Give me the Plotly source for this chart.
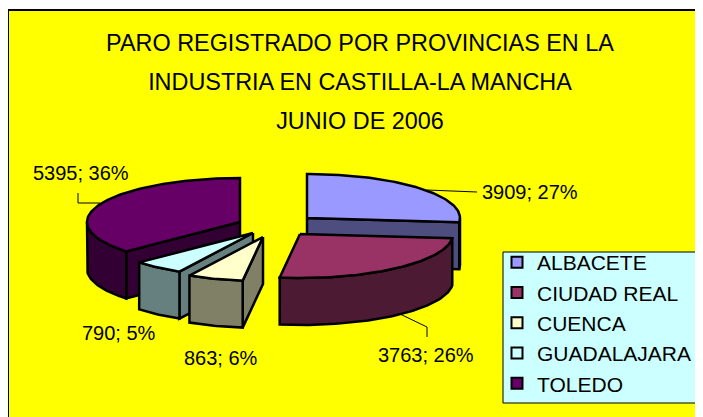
import math
import plotly.graph_objects as go

provinces = ["ALBACETE", "CIUDAD REAL", "CUENCA", "GUADALAJARA", "TOLEDO"]
values = [3909, 3763, 863, 790, 5395]
percents = [27, 26, 6, 5, 36]

top_colors = ["#9999FF", "#993366", "#FFFFCC", "#CCFFFF", "#660066"]
wall_colors = ["#4D4D80", "#4D1A33", "#808066", "#668080", "#330033"]
apex = [(307, 218), (300, 234), (263, 237), (253, 233), (240, 222)]
label_pos = [(530, 192), (426, 355), (221, 358), (119, 333), (81, 173)]
leaders = [([427, 448, 477], [190, 191, 192]), ([400, 427, 427], [314, 327, 337]),
           None, None, ([78, 78, 100], [193, 203, 203])]
RX, RY, DEPTH = 153, 44, 47
draw_order = [4, 3, 2, 0, 1]

OFF = 8  # the page's own margin around the figure
total = sum(values)
bounds = [0]
for v in values:
    bounds.append(bounds[-1] + v / total * 360)


def pt(c, a, dz=0):
    r = math.radians(a)
    return c[0] + RX * math.sin(r), c[1] - RY * math.cos(r) + dz


def arc(c, a0, a1, dz=0):
    n = max(2, int(abs(a1 - a0)))
    return [pt(c, a0 + (a1 - a0) * i / n, dz) for i in range(n + 1)]


def poly(points, color):
    xs = [p[0] for p in points] + [points[0][0]]
    ys = [p[1] for p in points] + [points[0][1]]
    return go.Scatter(x=xs, y=ys, mode="lines", fill="toself", fillcolor=color,
                      line=dict(color="black", width=2.5), showlegend=False, hoverinfo="skip")


fig = go.Figure()
for i in draw_order:
    c, a0, a1 = apex[i], bounds[i], bounds[i + 1]
    # radial faces that look towards the viewer
    for a, visible in ((a0, math.sin(math.radians(a0)) < -1e-6), (a1, math.sin(math.radians(a1)) > 1e-6)):
        if visible:
            p = pt(c, a)
            fig.add_trace(poly([c, p, (p[0], p[1] + DEPTH), (c[0], c[1] + DEPTH)], wall_colors[i]))
    # outer wall: only the part facing the viewer
    v0, v1 = max(a0, 90), min(a1, 270)
    if v1 > v0:
        fig.add_trace(poly(arc(c, v0, v1) + arc(c, v1, v0, DEPTH), wall_colors[i]))
    fig.add_trace(poly([c] + arc(c, a0, a1), top_colors[i]))

for leader in leaders:
    if leader:
        fig.add_trace(go.Scatter(x=leader[0], y=leader[1], mode="lines", line=dict(color="black", width=1),
                                 showlegend=False, hoverinfo="skip"))

for i, name in enumerate(provinces):
    fig.add_trace(go.Scatter(x=[None], y=[None], mode="markers", name=name,
                             marker=dict(symbol="square", size=11, color=top_colors[i],
                                         line=dict(color="black", width=2))))

for i in range(5):
    fig.add_annotation(x=label_pos[i][0], y=label_pos[i][1], text=f"{values[i]}; {percents[i]}%",
                       showarrow=False, font=dict(size=20, color="black"))

fig.add_shape(type="rect", x0=503, x1=702.5, y0=252, y1=403, fillcolor="#CCFFFF",
              line=dict(color="black", width=1), layer="above")

W, H = 703 - OFF, 417 - OFF
S = '<span style="font-size:23.4px">'
fig.update_layout(
    width=W, height=H, autosize=False,
    margin=dict(l=1, r=0, t=3, b=0),
    paper_bgcolor="white", plot_bgcolor="#FFFF00",
    font=dict(family="Liberation Sans, Arial, sans-serif", color="black"),
    title=dict(text=f"{S}PARO REGISTRADO POR PROVINCIAS EN LA</span><br>{S}INDUSTRIA EN CASTILLA-LA MANCHA</span><br>{S}JUNIO DE 2006</span>",
               font=dict(size=30), x=(360 - OFF) / W, xanchor="center", y=1 - (51 - OFF) / H, yanchor="middle"),
    xaxis=dict(range=[9, 703], showticklabels=False, ticks="", showgrid=False, zeroline=False, side="top",
               showline=True, linecolor="black", linewidth=2, mirror=False, fixedrange=True),
    yaxis=dict(range=[417, 11], showticklabels=False, ticks="", showgrid=False, zeroline=False,
               showline=True, linecolor="black", linewidth=2, mirror=False, fixedrange=True),
    legend=dict(x=(497 - 9) / 694, y=1 - (242 - 11) / 406, xanchor="left", yanchor="top",
                bgcolor="rgba(0,0,0,0)", borderwidth=0,
                font=dict(size=21), itemwidth=30),
)
fig.write_html("out.html")
